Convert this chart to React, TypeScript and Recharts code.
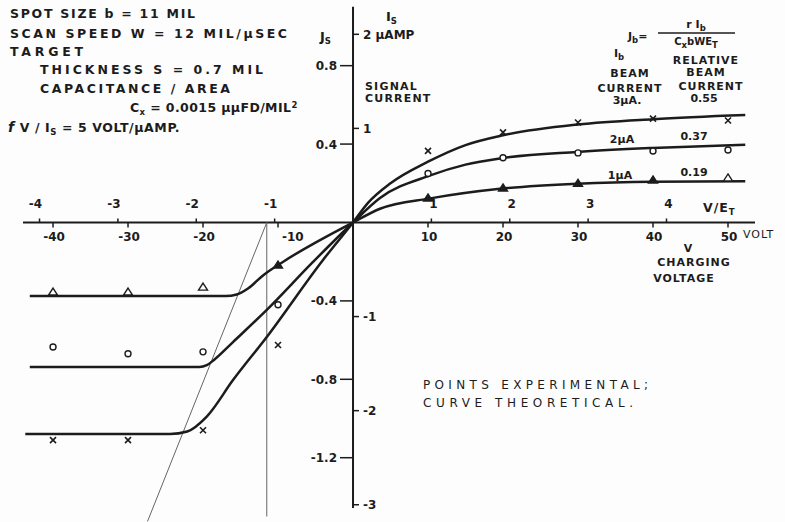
import React from "react"
import { ComposedChart, Line, Scatter, XAxis, YAxis, ReferenceLine } from "recharts"

const WIDTH = 785
const HEIGHT = 522
const INK = "#1c1c1c"
const FONT = "'DejaVu Sans', sans-serif"

// experimental points: charging voltage V (volt) and signal current density J_s
const pointVolts = [-40, -30, -20, -10, 10, 20, 30, 40, 50]
const points3uA = [-1.11, -1.11, -1.06, -0.625, 0.365, 0.46, 0.51, 0.53, 0.52]
const points2uA = [-0.635, -0.67, -0.66, -0.42, 0.25, 0.33, 0.355, 0.365, 0.37]
const points1uA = [-0.355, -0.355, -0.33, -0.217, 0.125, 0.176, 0.2, 0.217, 0.227]
const solidTriangleVolts = [-10, 10, 20, 30, 40]

// theoretical curves
const theoryVolts3uA = [-43.7, -24.4, -22.1, -19.5, -16, -11.5, -4, 0, 2, 5, 10, 15, 20, 30, 40, 52.3]
const theory3uA = [-1.079, -1.079, -1.066, -0.99, -0.804, -0.584, -0.191, 0, 0.1, 0.2, 0.31, 0.395, 0.445, 0.5, 0.527, 0.548]
const theoryVolts2uA = [-43.1, -20.5, -19.5, -18.5, -16, -11.5, -5.3, 0, 3.6, 10.3, 15, 19.6, 29.9, 39.9, 52.3]
const theory2uA = [-0.737, -0.737, -0.728, -0.7, -0.61, -0.446, -0.2, 0, 0.125, 0.24, 0.295, 0.327, 0.36, 0.38, 0.397]
const theoryVolts1uA = [-43.1, -17, -15.5, -14, -12, -9.3, 0, 3.6, 10.3, 19.6, 29.9, 39.9, 52.3]
const theory1uA = [-0.375, -0.375, -0.367, -0.337, -0.27, -0.2, 0, 0.07, 0.123, 0.172, 0.198, 0.208, 0.21]

// axes and scales
const voltTicks = [-40, -30, -20, -10, 10, 20, 30, 40, 50]
const normTicks = [-4, -3, -2, -1, 1, 2, 3, 4]
const E_T = 10.45
const jTicks = [0.8, 0.4, -0.4, -0.8, -1.2]
const uampTicks = [2, 1, -1, -2, -3]
const J_PER_UAMP = 0.48
const X_DOMAIN = [-47.07, 57.6]
const Y_DOMAIN = [-1.528, 1.135]
const X_AXIS_SPAN = [-44, 53.6]
const Y_AXIS_SPAN = [-1.457, 1.1]

// construction lines at the cut-off voltage
const cutoffVolts = -11.5
const verticalGuide = [{ v: cutoffVolts, j: 0 }, { v: cutoffVolts, j: -1.5 }]
const slopeGuide = [{ v: cutoffVolts, j: 0 }, { v: -27.4, j: -1.525 }]

const toRows = (xs: number[], ys: number[]) => xs.map((v, i) => ({ v, j: ys[i] }))

const txt = { fontFamily: FONT, fontWeight: 700, fill: INK } as const

const Cross = ({ cx, cy }: any) => (
  <g stroke={INK} strokeWidth={1.6}>
    <line x1={cx - 3} y1={cy - 3} x2={cx + 3} y2={cy + 3} />
    <line x1={cx - 3} y1={cy + 3} x2={cx + 3} y2={cy - 3} />
  </g>
)

const Ring = ({ cx, cy }: any) => (
  <circle cx={cx} cy={cy} r={3} fill="#fff" stroke={INK} strokeWidth={1.4} />
)

const Triangle = ({ cx, cy, payload }: any) => {
  const solid = solidTriangleVolts.includes(payload.v)
  return (
    <path
      d={`M${cx},${cy - 4} L${cx + 4.5},${cy + 3} L${cx - 4.5},${cy + 3} Z`}
      fill={solid ? INK : "#fff"}
      stroke={INK}
      strokeWidth={1.4}
    />
  )
}

const VoltTick = ({ cx, cy, payload }: any) => {
  const nearGuide = payload.v === -10
  return (
    <g>
      <line x1={cx} y1={cy} x2={cx} y2={cy + 5} stroke={INK} strokeWidth={1.5} />
      <text
        x={nearGuide ? cx + 4 : cx + 1}
        y={cy + 19}
        textAnchor={nearGuide ? "start" : "middle"}
        fontSize={12}
        {...txt}
      >
        {payload.v}
      </text>
    </g>
  )
}

const NormTick = ({ cx, cy, payload }: any) => (
  <g>
    <line x1={cx} y1={cy} x2={cx} y2={cy - 4} stroke={INK} strokeWidth={1.5} />
    <text x={payload.n < 0 ? cx - 4 : cx + 2} y={cy - 14} textAnchor="middle" fontSize={12} {...txt}>
      {payload.n}
    </text>
  </g>
)

const JTick = ({ cx, cy, payload }: any) => (
  <g>
    <line x1={cx - 13} y1={cy} x2={cx} y2={cy} stroke={INK} strokeWidth={1.5} />
    <text x={cx - 16} y={cy + 4.5} textAnchor="end" fontSize={12} {...txt}>
      {payload.j.toFixed(1)}
    </text>
  </g>
)

const UampTick = ({ cx, cy, payload }: any) => (
  <g>
    <line x1={cx} y1={cy} x2={cx + 6} y2={cy} stroke={INK} strokeWidth={1.5} />
    <text x={cx + 10} y={cy + 4.5} fontSize={12} {...txt}>
      {payload.n === 2 ? "2  \u00b5AMP" : payload.n}
    </text>
  </g>
)

const Sub = ({ children }: { children: React.ReactNode }) => (
  <tspan dy={3} fontSize={8.5}>
    {children}
  </tspan>
)

function Annotations() {
  const t = { ...txt, fontSize: 12.5 }
  const s = { ...txt, fontSize: 11 }
  return (
    <svg
      width={WIDTH}
      height={HEIGHT}
      style={{ position: "absolute", left: 0, top: 0, pointerEvents: "none" }}
    >
      <text x={10} y={18} textLength={185} lengthAdjust="spacing" {...t}>SPOT SIZE  b = 11 MIL</text>
      <text x={10} y={38} textLength={277} lengthAdjust="spacing" {...t}>SCAN SPEED  W = 12 MIL/{"\u00b5"}SEC</text>
      <text x={10} y={56} textLength={73} lengthAdjust="spacing" {...t}>TARGET</text>
      <text x={40} y={74} textLength={223} lengthAdjust="spacing" {...t}>THICKNESS  S = 0.7 MIL</text>
      <text x={40} y={93} textLength={190} lengthAdjust="spacing" {...t}>CAPACITANCE / AREA</text>
      <text x={130} y={112} {...t} letterSpacing={0.4}>
        C<Sub>x</Sub><tspan dy={-3}> = 0.0015 {"\u00b5\u00b5"}FD/MIL</tspan>
        <tspan dy={-4} fontSize={8.5}>2</tspan>
      </text>
      <text x={8} y={132} {...t} letterSpacing={0.6}>
        <tspan fontStyle="italic" fontSize={14}>f</tspan> V / I<Sub>S</Sub>
        <tspan dy={-3}> = 5 VOLT/{"\u00b5"}AMP.</tspan>
      </text>

      <text x={320} y={41} {...t} fontSize={13}>J<Sub>S</Sub></text>
      <text x={386} y={21} {...t} fontSize={13}>I<Sub>S</Sub></text>
      <text x={365} y={90} {...s} letterSpacing={1.2}>SIGNAL</text>
      <text x={365} y={102} {...s} letterSpacing={1.2}>CURRENT</text>

      <text x={628} y={40} {...s}>
        J<Sub>b</Sub><tspan dy={-3}>=</tspan>
      </text>
      <text x={696} y={28} textAnchor="middle" {...s}>
        r I<Sub>b</Sub>
      </text>
      <line x1={658} x2={735} y1={33} y2={33} stroke={INK} strokeWidth={1.3} />
      <text x={696} y={45} textAnchor="middle" {...s} fontSize={10}>
        C<Sub>x</Sub><tspan dy={-3}>bWE</tspan><Sub>T</Sub>
      </text>

      <text x={614} y={57} {...s}>I<Sub>b</Sub></text>
      <text x={706} y={64} textAnchor="middle" {...s} letterSpacing={1}>RELATIVE</text>
      <text x={630} y={77} textAnchor="middle" {...s} letterSpacing={1}>BEAM</text>
      <text x={706} y={76} textAnchor="middle" {...s} letterSpacing={1}>BEAM</text>
      <text x={630} y={92} textAnchor="middle" {...s} letterSpacing={1}>CURRENT</text>
      <text x={711} y={90} textAnchor="middle" {...s} letterSpacing={1}>CURRENT</text>
      <text x={627} y={104} textAnchor="middle" {...s}>3{"\u00b5"}A.</text>
      <text x={704} y={102} textAnchor="middle" {...s}>0.55</text>
      <text x={622} y={143} textAnchor="middle" {...s}>2{"\u00b5"}A</text>
      <text x={694} y={140} textAnchor="middle" {...s}>0.37</text>
      <text x={620} y={179} textAnchor="middle" {...s}>1{"\u00b5"}A</text>
      <text x={694} y={176} textAnchor="middle" {...s}>0.19</text>

      <text x={703} y={212} {...t} fontSize={12.5} letterSpacing={1}>
        V/E<Sub>T</Sub>
      </text>
      <text x={743} y={238} {...s} fontWeight={400} letterSpacing={1}>VOLT</text>
      <text x={688} y={252} textAnchor="middle" {...s}>V</text>
      <text x={694} y={266} textAnchor="middle" {...s} letterSpacing={1}>CHARGING</text>
      <text x={684} y={282} textAnchor="middle" {...s} letterSpacing={1}>VOLTAGE</text>

      <text x={423} y={389} textLength={225} lengthAdjust="spacing" {...s} fontWeight={400} fontSize={12}>
        POINTS EXPERIMENTAL;
      </text>
      <text x={423} y={407} textLength={210} lengthAdjust="spacing" {...s} fontWeight={400} fontSize={12}>
        CURVE THEORETICAL.
      </text>
    </svg>
  )
}

export default function App() {
  const curve = {
    type: "monotone" as const,
    dataKey: "j",
    stroke: INK,
    strokeWidth: 2.5,
    dot: false,
    activeDot: false,
    isAnimationActive: false,
  }
  return (
    <div style={{ position: "absolute", left: 0, top: 0, width: WIDTH, height: HEIGHT, background: "#fdfdfd" }}>
      <ComposedChart width={WIDTH} height={HEIGHT} margin={{ top: 0, right: 0, bottom: 0, left: 0 }}>
        <XAxis type="number" dataKey="v" domain={X_DOMAIN} allowDataOverflow hide />
        <YAxis type="number" dataKey="j" domain={Y_DOMAIN} allowDataOverflow hide />

        <ReferenceLine
          segment={[{ x: X_AXIS_SPAN[0], y: 0 }, { x: X_AXIS_SPAN[1], y: 0 }]}
          stroke={INK}
          strokeWidth={2}
        />
        <ReferenceLine
          segment={[{ x: 0, y: Y_AXIS_SPAN[0] }, { x: 0, y: Y_AXIS_SPAN[1] }]}
          stroke={INK}
          strokeWidth={2}
        />
        <ReferenceLine
          segment={verticalGuide.map((p) => ({ x: p.v, y: p.j }))}
          stroke="#666"
          strokeWidth={1}
          ifOverflow="visible"
        />
        <ReferenceLine
          segment={slopeGuide.map((p) => ({ x: p.v, y: p.j }))}
          stroke="#666"
          strokeWidth={1}
          ifOverflow="visible"
        />

        <Scatter data={voltTicks.map((v) => ({ v, j: 0 }))} shape={VoltTick} isAnimationActive={false} />
        <Scatter data={normTicks.map((n) => ({ v: n * E_T, j: 0, n }))} shape={NormTick} isAnimationActive={false} />
        <Scatter data={jTicks.map((j) => ({ v: 0, j }))} shape={JTick} isAnimationActive={false} />
        <Scatter data={uampTicks.map((n) => ({ v: 0, j: n * J_PER_UAMP, n }))} shape={UampTick} isAnimationActive={false} />

        <Line data={toRows(theoryVolts3uA, theory3uA)} {...curve} />
        <Line data={toRows(theoryVolts2uA, theory2uA)} {...curve} />
        <Line data={toRows(theoryVolts1uA, theory1uA)} {...curve} />

        <Scatter data={toRows(pointVolts, points3uA)} shape={Cross} isAnimationActive={false} />
        <Scatter data={toRows(pointVolts, points2uA)} shape={Ring} isAnimationActive={false} />
        <Scatter data={toRows(pointVolts, points1uA)} shape={Triangle} isAnimationActive={false} />
      </ComposedChart>
      <Annotations />
    </div>
  )
}
